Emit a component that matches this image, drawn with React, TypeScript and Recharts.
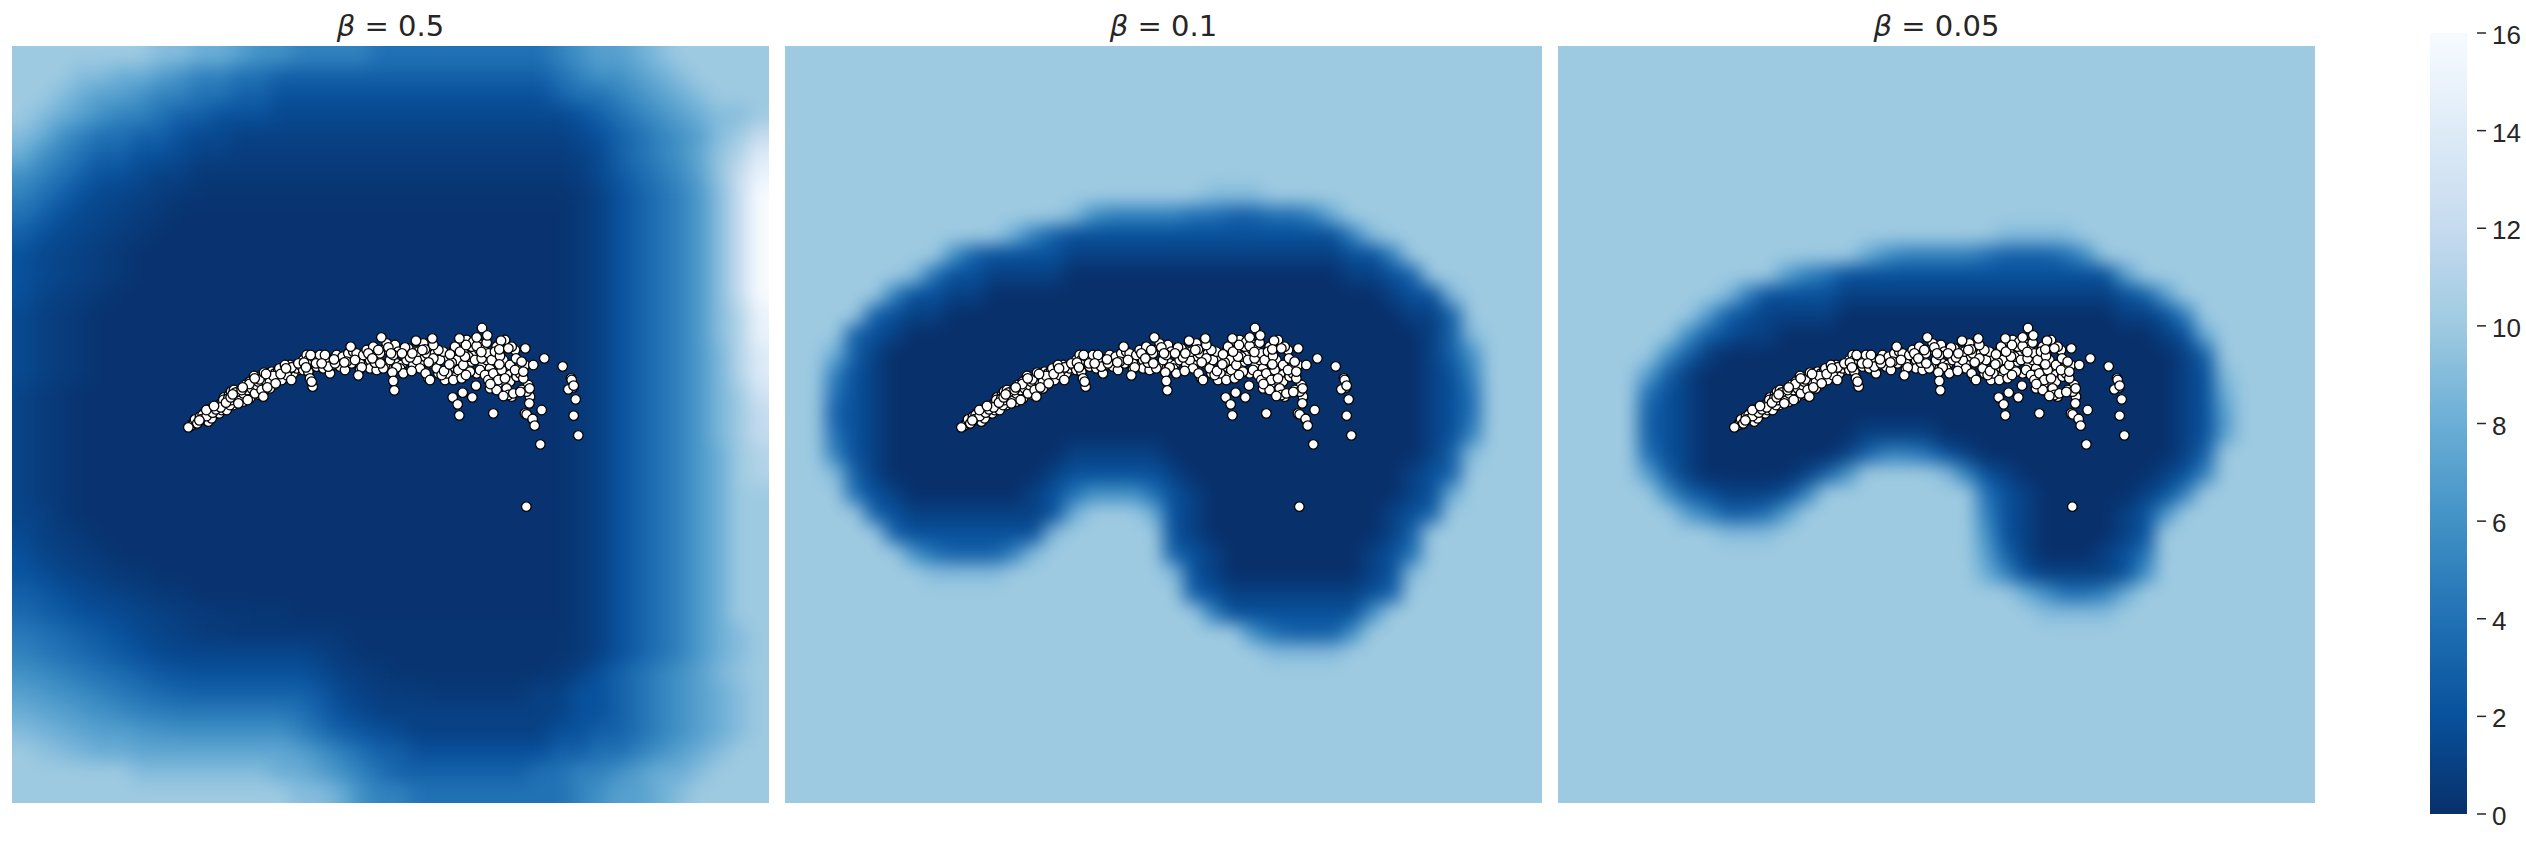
import React from "react";
import { ScatterChart, Scatter, XAxis, YAxis, BarChart, Bar } from "recharts";

const titles = ["0.5", "0.1", "0.05"];
const colorTicks = [0, 2, 4, 6, 8, 10, 12, 14, 16];
const bluesStops = ["#f7fbff", "#deebf7", "#c6dbef", "#9ecae1", "#6baed6", "#4292c6", "#2171b5", "#08519c", "#08306b"];

// Heat values (a-g = 10-16, run-length "value*count") on a 38 x 38 grid, top row first
const heatBeta05 = [
  "a*7,9,9,8,8,7,6,6,5*4,4*9,5,6,7,7,8,9,a*5",
  "a*3,9,9,8,8,7,6,5,5,4,4,3*14,4,5,6,6,7,8,9,a*4",
  "a,a,9,8,7,7,6,5,5,4,4,3,3,2*14,3,4,4,5,6,7,8,9,a,a,a",
  "a,9,8,7,6,5,5,4,3,3,2,2,2,1.5*15,2,3,4,5,6,7,8,9,9,a",
  "9,8,6,5,4,4,3,3,2,1.5,1.5,1*17,1.5,2,3,4,5,6,7,9,a,c",
  "8,6,5,4,3,3,2,2,1.5,1,1,0.8*17,1,1.5,3,4,5,6,7.5,9.5,b,e",
  "6,5,4,3,2,2,1.5,1,1,0.5*19,0.8,1.5,2.5,3.5,4.5,5.5,7,9.5,c,f",
  "5,4,3,2,1.5,1.2,1,0.7,0.5,0.3*19,0.5,1,2,3,4,5,6.5,9,c,g",
  "4,3,2,1.5,1.2,1,0.7,0.5,0.2*20,0.5,1,2,3,4,5,6.5,9,c,g",
  "3,2,1.5,1.2,1,0.7,0.5,0.2*21,0.5,1,2,3,4,5,6.5,9,c,g",
  "2,1.5,1.2,1,0.7,0.5,0.2*22,0.5,1,2,3,4,5,6.5,9,c,g",
  "2,1.5,1.2,1,0.7,0.5,0.2*22,0.5,1,2,3,4,5,6.5,9,c,g",
  "2,1.2,1,0.7,0.5,0.2*23,0.5,1,2,3,4,5,6.5,9,c,g",
  "1.5,1,0.7,0.5,0.2*24,0.5,1,2,3,4,5,6.5,9,b,f",
  "1.5,1,0.7,0.5,0.2*24,0.5,1,2,3,4,5,6.5,9,b,f",
  "1.5,1,0.7,0.5,0.2*24,0.5,1,2,3,4,5,6.5,8.5,b,e",
  "1.5,1,0.7,0.5,0.2*24,0.5,1,2,3,4,5,6.5,8.5,b,e",
  "1.2,0.7,0.5,0.2*25,0.5,1,2,3,4,5,6.5,8.5,a,d",
  "1.2,0.7,0.5,0.2*25,0.5,1,2,3,4,5,6.5,8.5,a,c",
  "1.2,0.7,0.5,0.2*25,0.5,1,2,3,4,5,6.5,8.5,a,c",
  "1.2,0.7,0.5,0.2*25,0.5,1,2,3,4,5,6.5,8,a,b",
  "1.2,0.7,0.5,0.2*25,0.5,1,2,3,4,5,6.5,8,a,b",
  "1.2,0.7,0.5,0.2*25,0.5,1,2,3,4,5,6.5,8,a,a",
  "1.2,1,0.5,0.2*25,0.5,1,2,3,4,5,6.5,8,a,a",
  "1.5,1,0.7,0.5,0.2*24,0.5,1,2,3,4,5,6.5,8,a,a",
  "2,1.2,1,0.7,0.5,0.2*23,0.5,1,2,3,4,5,6.5,8,a,a",
  "2.2,1.8,1.2,1,0.8,0.5,0.4,0.2*21,0.5,1,2,3,4,5,6.5,8,a,a",
  "3,2.5,2,1.5,1.2,1,0.8,0.5,0.4,0.2*19,0.5,1,2,3,4,5,6.5,8,a,a",
  "3.5,3,2.5,2,1.8,1.5,1.2,1,0.8,0.6,0.5,0.5,0.4,0.4,0.2*14,0.5,1,2,3,4,5,6.5,8,a,a",
  "4.5,4,3.5,3,2.5,2,1.5,1.2,1,0.7,0.6,0.5,0.5,0.5,0.5,0.5,0.4,0.3*11,0.5,1,2,3,4,5,6.5,8,9,a",
  "5,4.5,4,3.5,3,2.5,2,1.5,1.3*6,1.3,1,0.6,0.3*11,0.5,1,2,3,4,5,6.5,8,9,a",
  "6,5.5,5,4.5,4,3.5,3,2.5,2.2,2*5,2,1.5,1,0.8,0.5,0.3*8,0.5,1,2,3,4,5,6,7,8.5,9.5,a",
  "7,6.5,6,5.5,5,4.5,4,3.5,3.2,3*5,3,2.5,1.5,1,0.8,0.7,0.6,0.5*4,0.5,1,1,2,2,3,4,5,6,7,8,9,a",
  "8,7.5,7,6.5,6,5.5,5,4.8,4.5*6,4,3,2,1.5,1*10,2,2,3,4,5,6,7,8,9,a",
  "9,8.5,8,7.5,7,7,6.5,6.2,6*6,5,4,3,2.5,2,1.5,1*7,2,2,3,3,4,5,6,7,8,9,a",
  "a,9.5,9,8.5,8,8,7.5*8,7,6,5,4,3,3,2*7,3,3,4,4,5,6,7,8,9,a,a",
  "a*6,9*7,8,8,7,6,5,4,3*7,4,4,5,5,6,7,8,8,9,a*3",
  "a*14,9,9,8,6,5,5,4*8,5,6,7,7,8,9,a*4",
];

const heatBeta01 = [
  "a*38", "a*38", "a*38", "a*38", "a*38", "a*38", "a*38",
  "a*21,9,9,9,a*14",
  "a*14,9,6,5,5,5,5,4,4,3,3,4,4,5,8,a*10",
  "a*11,8,5,3,2*14,5,9,a*8",
  "a*8,6,3,2*4,1*14,2,2,5,a*7",
  "a*6,9,4,2,2,1*4,0*14,1,1,2,3,a*6",
  "a*5,5,2,2,1,1,0*20,1,2,2,9,a*4",
  "a*4,3,2,1,1,0*23,1,1,3,a*4",
  "a*3,3,2,1,0*26,1,3,9,a*3",
  "a*2,8,3,1,0*27,1,3,6,a*3",
  "a*2,5,2,1,0*27,1,2,5,a*3",
  "a*2,4,2,1,0*27,1,2,4,a*3",
  "a*2,3,2,1,0*27,1,2,4,a*3",
  "a*2,4,2,1,0*27,1,2,5,a*3",
  "a*2,5,2,1,0*9,1*5,0*13,1,3,9,a*3",
  "a*2,9,3,1,0*8,1,2*5,1,0*11,1,2,3,a*4",
  "a*3,4,2,1,0*6,1,2,4,6,6,6,4,2,1,0*10,1,2,8,a*4",
  "a*4,3,2,1*7,2,8,a*3,8,2,1,0*9,1,2,3,a*5",
  "a*5,3,2*7,9,a*5,2,1,0*9,1,3,a*6",
  "a*6,6,4,3,3,3,5,9,a*6,3,2,1,0*7,1,2,4,a*6",
  "a*7,9,9,9,9,a*8,9,2,1,0*7,1,2,9,a*6",
  "a*20,3,2,1*7,2,3,a*7",
  "a*21,5,2*7,6,a*8",
  "a*23,6,4,3,3,3,6,a*9",
  "a*24,9,9,9,9,a*10",
  "a*38", "a*38", "a*38", "a*38", "a*38", "a*38", "a*38",
];

const heatBeta005 = [
  "a*38", "a*38", "a*38", "a*38", "a*38", "a*38", "a*38", "a*38", "a*38",
  "a*22,9,9,9,9,a*12",
  "a*15,8,6,5,5,5,5,4,3,3,3,4,6,a*11",
  "a*11,7,5,4,2*14,7,a*9",
  "a*8,9,5,2*4,1*14,2,3,7,a*7",
  "a*7,7,3,2,1*4,0*14,1,1,2,5,a*6",
  "a*6,6,3,2,1,1,0*19,1,2,8,a*5",
  "a*5,6,3,1,0*23,1,3,a*5",
  "a*4,7,3,1,0*24,1,2,9,a*4",
  "a*4,4,2,1,0*24,1,2,8,a*4",
  "a*4,3,2,1,0*24,1,2,7,a*4",
  "a*4,3,2,1,0*8,1*4,0*12,1,2,7,a*4",
  "a*4,4,2,1,0*7,1,3,5,5,4,2,1,0*10,1,3,a*5",
  "a*4,7,3,1,0*5,1,3,6,a*4,9,5,2,1,0*7,1,2,5,a*5",
  "a*5,6,3,2,1,1,1,2,5,a*8,4,2,1,0*5,1,2,5,a*6",
  "a*6,7,5,3,3,4,7,a*9,5,2,1,0*4,1,2,6,a*7",
  "a*8,9,9,9,a*10,6,2,1,0*4,1,2,a*8",
  "a*21,7,3,1,0*3,1,2,4,a*8",
  "a*21,8,5,2,1,1,1,1,2,6,a*8",
  "a*23,8,6,4,4,5,8,a*9",
  "a*24,9,9,9,9,a*10",
  "a*38", "a*38", "a*38", "a*38", "a*38", "a*38", "a*38", "a*38", "a*38",
];

// Embedding points, in the embedding's own units; later points sit on top
const pointsX = [
  92,98,108,115,125,132,140,142,152,160,168,175,183,192,198,207,213,220,430,415,400,385,375,360,340,330,300,270,250,600,615,630,650,670,680,710,725,735,750,765,785,810,822,835,845,860,872,880,888,900,912,922,935,945,950,958,968,980,990,1000,1008,1020,1030,1042,1050,1065,1070,1080,1095,1105,1085,1110,1095,1040,1055,1012,985,1025,1035,880,800,795,815,830,915,930,905,1010,1035,1000,1233,1240,1116,
  95,102,110,105,120,128,135,145,150,155,148,165,172,178,185,190,195,200,205,210,215,222,228,235,240,250,256,262,270,275,285,290,300,295,305,315,325,330,335,345,350,355,365,370,380,390,400,410,420,430,440,445,450,458,445,460,470,480,490,500,510,515,530,540,548,555,565,575,580,590,600,610,620,630,640,650,660,675,680,690,705,715,720,730,740,745,760,770,780,790,800,805,815,825,830,840,850,855,862,880,885,890,895,905,910,920,925,930,935,940,945,955,960,965,970,975,985,985,990,995,1000,1005,1010,1015,1025,1030,1035,1040,1045,1050,1055,1060,1068,1075,1085,1090,1100,
  112,122,140,158,168,182,198,212,226,245,268,282,298,312,340,358,375,395,415,432,452,468,495,505,525,560,585,605,625,645,655,670,685,700,710,735,750,775,795,820,835,845,875,915,950,980,1020,1065,
  85,118,139,162,218,248,235,263,284,318,322,347,362,378,394,310,438,455,485,522,553,595,572,664,637,661,693,726,757,697,700,703,755,797,806,787,768,820,817,852,870,868,900,918,898,950,966,982,964,1023,1018,1045,1096,1153,1208,1235,1225,1241,1247,1241,1255,1141,1099,1145,1100,1118,1124,1108,1109,1081,1090,1120,1030,991,1018,948,937,918,908,878,893,898,1000,810,
];
const pointsY = [
  348,342,342,326,325,310,320,308,300,295,312,298,280,262,278,255,245,285,150,180,190,180,200,195,225,235,255,265,275,175,165,150,140,120,170,160,165,125,150,125,155,115,150,190,130,145,185,125,200,145,130,165,155,125,190,120,165,150,175,210,155,135,225,190,215,120,200,190,165,225,240,260,310,240,260,225,195,200,170,170,100,140,95,120,100,95,92,110,90,130,205,232,325,
  345,338,335,328,320,315,325,335,310,325,298,305,290,310,300,270,285,300,265,285,270,240,262,245,262,250,225,240,215,235,250,225,200,215,240,210,200,215,185,190,205,180,210,180,195,165,170,175,165,180,135,185,205,230,150,140,170,135,175,145,190,165,135,170,140,180,130,160,125,130,160,135,120,175,110,180,130,165,100,150,105,125,175,190,150,115,165,150,175,100,130,205,160,130,175,150,125,210,190,210,110,150,180,205,165,90,140,185,110,95,150,100,180,145,110,195,130,210,235,150,190,125,240,210,180,150,205,235,255,165,110,250,145,175,155,205,245,
  340,328,318,308,298,292,278,262,248,240,222,198,208,188,198,175,165,172,160,158,135,160,135,170,160,155,150,172,130,158,120,175,112,135,172,112,142,125,118,145,120,195,158,140,108,98,138,180,
  352,331,300,288,253,232,280,270,205,192,232,220,192,175,210,260,172,215,160,148,157,196,110,82,145,160,130,130,130,187,213,241,183,190,157,120,92,105,85,183,133,163,125,105,85,82,54,76,126,92,118,115,115,145,169,210,238,227,268,317,376,403,590,300,313,327,347,280,235,246,185,165,258,222,163,227,262,195,248,262,283,316,310,210,
];

const GRID = 38;
const SIDE = 757;
const PAD = 40;
const CELL = SIDE / GRID;
const panelLeft = [12, 785, 1558];
const PANEL_TOP = 46;
const TEXT = "#262626";

function blues(v: number): string {
  const t = (1 - v / 16) * (bluesStops.length - 1);
  const i = Math.min(Math.floor(t), bluesStops.length - 2);
  const f = t - i;
  const hex = (s: string, k: number) => parseInt(s.slice(1 + 2 * k, 3 + 2 * k), 16);
  const ch = [0, 1, 2].map((k) => Math.round(hex(bluesStops[i], k) * (1 - f) + hex(bluesStops[i + 1], k) * f));
  return `rgb(${ch.join(",")})`;
}

function expandRow(row: string): number[] {
  const out: number[] = [];
  row.split(",").forEach((tok) => {
    const [d, n] = tok.split("*");
    const val = d.includes(".") ? parseFloat(d) : parseInt(d, 17);
    for (let i = 0; i < (n ? parseInt(n, 10) : 1); i++) out.push(val);
  });
  return out;
}

function cellsOf(rows: string[]) {
  const cells: { x: number; y: number; value: number; col: number; row: number }[] = [];
  rows.forEach((row, r) => expandRow(row).forEach((value, c) => cells.push({ x: c + 0.5, y: r + 0.5, value, col: c, row: r })));
  return cells;
}

const HeatCell = (p: any) => {
  const { cx, cy, payload } = p;
  const half = CELL / 2 + 0.4;
  const x0 = payload.col === 0 ? cx - half - PAD : cx - half;
  const x1 = payload.col >= GRID - 1 ? cx + half + PAD : cx + half;
  const y0 = payload.row === 0 ? cy - half - PAD : cy - half;
  const y1 = payload.row >= GRID - 1 ? cy + half + PAD : cy + half;
  return <rect x={x0} y={y0} width={x1 - x0} height={y1 - y0} fill={blues(payload.value)} />;
};

const Dot = (p: any) => <circle cx={p.cx} cy={p.cy} r={4.8} fill="#ffffff" stroke="#000000" strokeWidth={1.3} />;

const points = pointsX.map((x, i) => ({ x, y: pointsY[i] }));
const padCells = PAD / CELL;

function Panel({ left, rows, title }: { left: number; rows: string[]; title: string }) {
  const cells = cellsOf(rows);
  return (
    <>
      <div style={{ position: "absolute", left, top: 0, width: SIDE, height: PANEL_TOP, textAlign: "center", fontFamily: "'DejaVu Sans'", fontSize: 29, lineHeight: "52px", color: TEXT, whiteSpace: "pre" }}>
        <i>β</i> = {title}
      </div>
      <div style={{ position: "absolute", left, top: PANEL_TOP, width: SIDE, height: SIDE, overflow: "hidden" }}>
        <div style={{ position: "absolute", left: -PAD, top: -PAD, filter: "blur(9px)" }}>
          <ScatterChart width={SIDE + 2 * PAD} height={SIDE + 2 * PAD} margin={{ top: 0, right: 0, bottom: 0, left: 0 }}>
            <XAxis type="number" dataKey="x" domain={[-padCells, GRID + padCells]} hide allowDataOverflow />
            <YAxis type="number" dataKey="y" domain={[-padCells, GRID + padCells]} reversed hide allowDataOverflow />
            <Scatter data={cells} shape={HeatCell} isAnimationActive={false} />
          </ScatterChart>
        </div>
        <div style={{ position: "absolute", left: 0, top: 0 }}>
          <ScatterChart width={SIDE} height={SIDE} margin={{ top: 0, right: 0, bottom: 0, left: 0 }}>
            <XAxis type="number" dataKey="x" domain={[-444, 1827]} hide allowDataOverflow />
            <YAxis type="number" dataKey="y" domain={[-792, 1479]} reversed hide allowDataOverflow />
            <Scatter data={points} shape={Dot} isAnimationActive={false} />
          </ScatterChart>
        </div>
      </div>
    </>
  );
}

const ColorTick = (p: any) => {
  const { x, y, payload } = p;
  return (
    <g>
      <line x1={x + 2} x2={x + 11} y1={y} y2={y} stroke={TEXT} strokeWidth={1.5} />
      <text x={x + 17} y={y + 11} textAnchor="start" fontFamily="'Liberation Sans'" fontSize={26} fill={TEXT}>
        {payload.value}
      </text>
    </g>
  );
};

function ColorBar() {
  return (
    <div style={{ position: "absolute", left: 2430, top: 0 }}>
      <BarChart width={96} height={843} data={[{ name: "scale", top: 16 }]} barCategoryGap={0} margin={{ top: 33, right: 0, bottom: 29, left: 0 }}>
        <defs>
          <linearGradient id="cbGrad" x1="0" y1="0" x2="0" y2="1">
            {bluesStops.map((c, i) => (
              <stop key={c} offset={i / (bluesStops.length - 1)} stopColor={c} />
            ))}
          </linearGradient>
        </defs>
        <XAxis dataKey="name" hide />
        <YAxis orientation="right" width={59} domain={[0, 16]} ticks={colorTicks} interval={0} axisLine={false} tickLine={false} tick={ColorTick} />
        <Bar dataKey="top" fill="url(#cbGrad)" isAnimationActive={false} />
      </BarChart>
    </div>
  );
}

export default function App() {
  const all = [heatBeta05, heatBeta01, heatBeta005];
  return (
    <div style={{ position: "absolute", left: 0, top: 0, width: 2526, height: 843, background: "#ffffff", overflow: "hidden" }}>
      {all.map((rows, i) => (
        <Panel key={titles[i]} left={panelLeft[i]} rows={rows} title={titles[i]} />
      ))}
      <ColorBar />
    </div>
  );
}
